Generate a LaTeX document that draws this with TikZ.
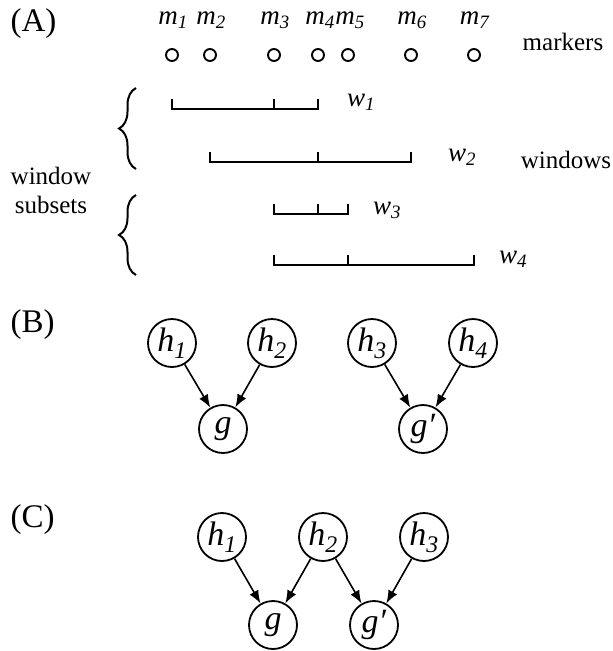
\documentclass[tikz,border=0pt]{standalone}
\usepackage{fontspec}
\setmainfont{Liberation Serif}
\usetikzlibrary{arrows.meta,positioning,decorations.pathreplacing}
\newcommand{\isub}[2]{\textit{#1}\textsubscript{\textit{#2}}}

\begin{document}
\begin{tikzpicture}[x=1pt, y=-1pt,
  panel/.style={font=\fontsize{33}{36}\selectfont, anchor=west},
  note/.style={font=\fontsize{25}{29}\selectfont, align=center},
  mlabel/.style={font=\fontsize{27}{30}\selectfont},
  marker/.style={circle, draw, line width=1.9pt, minimum size=12pt, inner sep=0pt},
  bar/.style={line width=2.4pt},
  setbrace/.style={decorate, decoration={brace, amplitude=17pt}, line width=2pt},
  var/.style={circle, draw, line width=1.8pt, minimum size=48pt, inner sep=0pt, font=\fontsize{34}{38}\selectfont},
  dep/.style={-{Latex[length=13pt, width=10pt]}, line width=1.6pt}]
  \useasboundingbox (0,0) rectangle (613,651);

  % Panel A: markers and windows
  \node[panel] (pa) at (7,24) {(A)};
  \node[marker] (mk1) at (172,55) {};
  \node[marker] (mk2) at (210,55) {};
  \node[marker] (mk3) at (274,55) {};
  \node[marker] (mk4) at (318,55) {};
  \node[marker] (mk5) at (348,55) {};
  \node[marker] (mk6) at (411,55) {};
  \node[marker] (mk7) at (474,55) {};
  \node[mlabel] (ml1) at (173,20) {\isub{m}{1}};
  \node[mlabel] (ml2) at (211,20) {\isub{m}{2}};
  \node[mlabel] (ml3) at (275,20) {\isub{m}{3}};
  \node[mlabel] (ml4) at (320,20) {\isub{m}{4}};
  \node[mlabel] (ml5) at (350,20) {\isub{m}{5}};
  \node[mlabel] (ml6) at (412,20) {\isub{m}{6}};
  \node[mlabel] (ml7) at (475,20) {\isub{m}{7}};
  \node[note] (markers) at (563,42) {markers};

  \draw[bar] (172,99) -- (172,109) -- (318,109) -- (318,99) (274,109) -- (274,99);
  \draw[bar] (210,152) -- (210,162) -- (411,162) -- (411,152) (318,162) -- (318,152);
  \draw[bar] (274,204) -- (274,214) -- (348,214) -- (348,204) (318,214) -- (318,204);
  \draw[bar] (274,255) -- (274,265) -- (474,265) -- (474,255) (348,265) -- (348,255);
  \node[mlabel] (w1) at (361,102) {\isub{w}{1}};
  \node[mlabel] (w2) at (462,157) {\isub{w}{2}};
  \node[mlabel] (w3) at (387,210) {\isub{w}{3}};
  \node[mlabel] (w4) at (513,259) {\isub{w}{4}};
  \node[note] (windows) at (566,160) {windows};

  \draw[setbrace] (136,169) -- (136,88);
  \draw[setbrace] (136,275) -- (136,195);
  \node[note] (subsets) at (51,190) {window\\subsets};

  % Panel B: two separate parents
  \node[panel] (pb) at (7,325) {(B)};
  \node[var] (b1) at (172,343) {\isub{h}{1}};
  \node[var] (b2) at (272,343) {\isub{h}{2}};
  \node[var] (b3) at (372,343) {\isub{h}{3}};
  \node[var] (b4) at (473,343) {\isub{h}{4}};
  \node[var] (bg) at (223,429) {\textit{g}};
  \node[var] (bgp) at (423,429) {\textit{g′}};
  \draw[dep] (b1) -- (bg);
  \draw[dep] (b2) -- (bg);
  \draw[dep] (b3) -- (bgp);
  \draw[dep] (b4) -- (bgp);

  % Panel C: shared parent
  \node[panel] (pc) at (7,520) {(C)};
  \node[var] (c1) at (222,537) {\isub{h}{1}};
  \node[var] (c2) at (323,537) {\isub{h}{2}};
  \node[var] (c3) at (424,537) {\isub{h}{3}};
  \node[var] (cg) at (273,625) {\textit{g}};
  \node[var] (cgp) at (374,625) {\textit{g′}};
  \draw[dep] (c1) -- (cg);
  \draw[dep] (c2) -- (cg);
  \draw[dep] (c2) -- (cgp);
  \draw[dep] (c3) -- (cgp);
\end{tikzpicture}
\end{document}
